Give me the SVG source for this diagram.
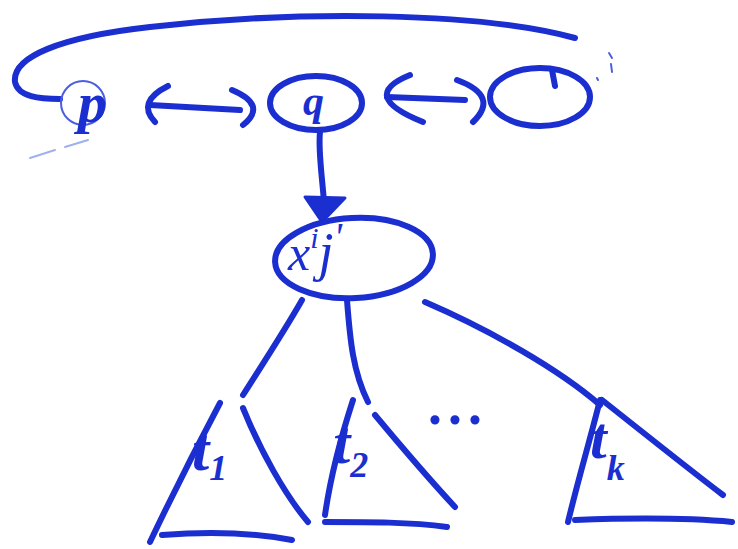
<svg xmlns="http://www.w3.org/2000/svg" width="738" height="549" viewBox="0 0 738 549">
<style>
.s{fill:none;stroke:#1b2ed0;stroke-width:6;stroke-linecap:round;stroke-linejoin:round}
.thin{fill:none;stroke:#4a5fe0;stroke-width:2;stroke-linecap:round}
.faint{fill:none;stroke:#9fb0f0;stroke-width:2;stroke-linecap:round}
.t{font-family:"Liberation Serif",serif;font-style:italic;fill:#1b2ed0}
</style>
<rect width="738" height="549" fill="#ffffff"/>
<g id="connectors">
  <path class="s" d="M60,99 C40,99 18,97 15,82 C12,57 60,37 150,27 C300,10 480,12 575,38"/>
  <path class="s" d="M150,105 L240,110"/>
  <path class="s" d="M168,86 Q136,102 155,122"/>
  <path class="s" d="M232,90 Q268,105 243,125"/>
  <path class="s" d="M387,97 L465,100"/>
  <path class="s" d="M410,75 Q358,96 423,122"/>
  <path class="s" d="M457,80 Q500,96 473,122"/>
  <path class="s" d="M320,132 C318,150 322,175 324,202"/>
  <polygon points="305,197 345,198 322,222" fill="#1b2ed0" stroke="#1b2ed0" stroke-width="3" stroke-linejoin="round"/>
  <path class="s" d="M302,300 C285,330 262,365 243,395"/>
  <path class="s" d="M347,300 C350,340 353,372 368,402"/>
  <path class="s" d="M425,302 C490,330 560,370 600,405"/>
  <path class="faint" d="M30,158 L55,150 M65,147 L88,140"/>
</g>
<g id="node-p">
  <circle class="thin" cx="83" cy="103" r="22"/>
  <text class="t" x="78" y="122" font-size="58" font-weight="bold">p</text>
</g>
<g id="node-q">
  <ellipse class="s" cx="316" cy="103" rx="46" ry="27"/>
  <text class="t" x="303" y="115" font-size="42" font-weight="bold">q</text>
</g>
<g id="node-r">
  <ellipse class="s" cx="540" cy="97" rx="50" ry="29"/>
  <path class="s" d="M552,70 L555,86"/>
  <path class="thin" d="M597,78 L598,80 M609,53 L612,58 M611,64 L612,72" stroke-width="3"/>
</g>
<g id="node-x">
  <ellipse class="s" cx="354" cy="258" rx="79" ry="40" transform="rotate(-3 354 258)"/>
  <text class="t" font-size="50" x="288" y="270">x<tspan font-size="30" dy="-22">i</tspan><tspan font-size="54" dy="22">j</tspan><tspan font-size="40" dy="-20">'</tspan></text>
</g>
<g id="tree-t1">
  <path class="s" d="M220,403 C195,450 170,500 150,542"/>
  <path class="s" d="M162,535 C200,532 250,532 292,540"/>
  <path class="s" d="M243,408 C260,450 285,495 308,522"/>
  <text class="t" font-size="62" x="192" y="470" font-weight="bold">t<tspan font-size="36" dy="10">1</tspan></text>
</g>
<g id="tree-t2">
  <path class="s" d="M353,400 C340,440 330,480 325,515"/>
  <path class="s" d="M325,522 C370,522 410,522 447,527"/>
  <path class="s" d="M375,415 C400,445 430,480 455,507"/>
  <text class="t" font-size="62" x="333" y="463" font-weight="bold">t<tspan font-size="36" dy="14">2</tspan></text>
</g>
<text class="t" font-size="56" x="430" y="424" font-style="normal" font-weight="bold" letter-spacing="6">...</text>
<g id="tree-tk">
  <path class="s" d="M600,400 C590,440 578,480 568,522"/>
  <path class="s" d="M575,520 C630,518 690,518 732,522"/>
  <path class="s" d="M602,400 C640,430 690,470 723,495"/>
  <text class="t" font-size="60" x="590" y="458" font-weight="bold">t<tspan font-size="36" dy="22">k</tspan></text>
</g>
</svg>
